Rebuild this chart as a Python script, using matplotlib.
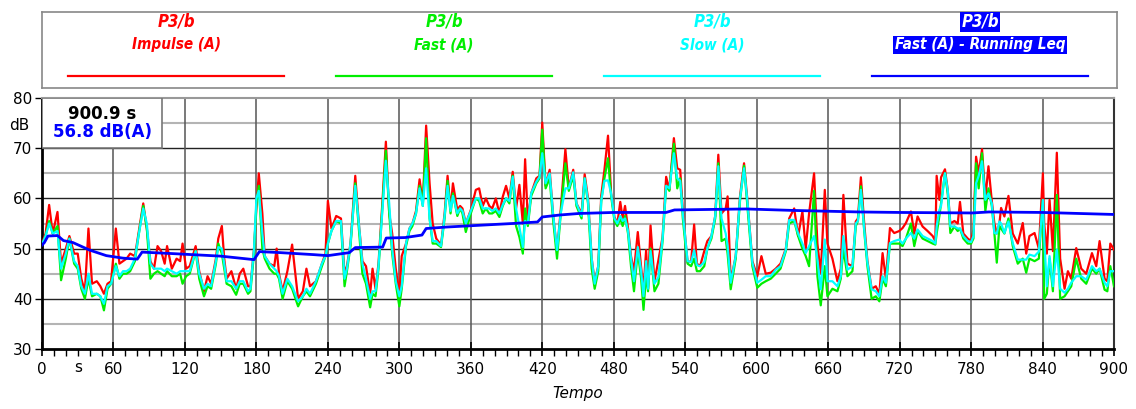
import numpy as np
import matplotlib.pyplot as plt
from matplotlib.patches import Rectangle
import matplotlib.transforms as mtransforms

# time axis (s) for the three level series
t = [0, 3, 6, 9, 13, 16, 20, 23, 27, 30,
     33, 36, 39, 42, 46, 49, 52, 55, 58, 62,
     65, 68, 71, 74, 78, 81, 85, 88, 91, 94,
     97, 100, 103, 105, 109, 113, 116, 118, 121, 124,
     129, 132, 136, 139, 142, 146, 148, 151, 153, 155,
     159, 163, 166, 169, 173, 175, 178, 180, 182, 185,
     187, 191, 195, 197, 199, 202, 206, 210, 215, 219,
     222, 225, 230, 235, 238, 240, 243, 247, 251, 254,
     256, 259, 263, 266, 269, 272, 275.5, 277.5, 280, 282.5,
     286, 288.7, 291.5, 294, 297, 300, 302, 305.6, 308.5, 311,
     314, 317, 319.7, 322.5, 325.4, 328, 331, 335, 338, 340.5,
     343, 345, 348.7, 351, 353, 355.8, 360, 364.2, 367, 370,
     372.7, 375.5, 378, 381, 384, 386.8, 389.6, 392.4, 395.2, 398,
     400.8, 403.7, 405.6, 407.9, 410.7, 415, 417.7, 420, 422.8, 426.2,
     429, 432.4, 435.5, 439.4, 442.3, 446, 448.7, 453, 455.6, 458.4,
     461.5, 464, 467, 469.5, 472.2, 475.2, 477.8, 480.6, 483, 485.5,
     487.5, 489.5, 492, 494.5, 497, 500.2, 503, 505, 507.2, 508.8,
     510.9, 514.2, 517.5, 521, 524, 526.7, 530.5, 533.3, 535.8, 538,
     540.5, 542, 545, 547.5, 549.8, 552.5, 556, 558.6, 562, 565.2,
     567.8, 570.5, 574, 575.6, 578.2, 582.4, 586, 589.4, 592.2, 596.4,
     600.5, 604, 607.6, 611.8, 616, 620, 624.5, 627.3, 631.5, 634.8,
     638.4, 641.2, 644, 648.2, 651, 653.8, 657.2, 659.4, 663.6, 667.8,
     670.6, 672.8, 676.2, 680.4, 683.2, 685, 687.5, 690.3, 693, 696.5,
     700, 703, 705.7, 708.5, 711.9, 715.5, 719.7, 722.5, 725.3, 729.5,
     732.3, 735.1, 739.3, 743.5, 747.8, 750, 751.1, 753.4, 754.8, 758.1,
     760.4, 762.6, 766, 768.8, 770.7, 773.5, 777.2, 780, 782, 784.2,
     786.4, 789.2, 792, 794.6, 797.4, 799.6, 801.6, 803.8, 805.2, 808,
     811.4, 815, 819.2, 823.4, 826.3, 829, 833.3, 836.9, 840.3, 841.4,
     843.6, 845.9, 848.7, 852, 854.8, 858.5, 861.3, 864.1, 868.3, 872.5,
     876.7, 881.5, 885.1, 887.9, 892.1, 894.4, 896.9, 900]

impulse = [51, 53, 58.7, 53, 57.3, 47, 50, 52.5, 49, 49,
           44, 41.5, 54, 43, 43.5, 42.5, 41, 43, 43.5, 54,
           47, 47.5, 48, 49, 48.5, 53, 59, 54, 47.5, 46,
           50.5, 49.5, 47, 50.5, 46, 48, 47.5, 51, 46, 46.5,
           50.5, 45.5, 41.5, 44.5, 43, 48, 52, 54.5, 48, 44,
           45.5, 42, 45, 46, 42.5, 42.5, 50, 58, 65, 57,
           48.5, 47, 46.5, 50, 45, 41.5, 45.5, 50.8, 40, 41.5,
           46, 42.5, 43.5, 47, 49, 59.5, 54, 56.5, 56, 45,
           46.5, 51, 64.5, 55, 47.5, 46.5, 41, 46, 42, 47,
           60, 71.3, 57, 53, 46, 41, 48.5, 51, 54, 55,
           57.5, 63.8, 59, 74.5, 63, 55, 52, 50.7, 57, 64.5,
           57.7, 63, 57.7, 58.5, 58, 55, 57.7, 61.7, 62, 58.5,
           60, 58.5, 58, 60, 57, 60.3, 62.5, 60, 65.3, 58,
           62.7, 55, 67.8, 55.5, 61, 64, 64.5, 75.1, 62.5, 65.7,
           57, 49.5, 57.7, 69.8, 62, 65.7, 59, 57, 64.8, 60,
           48, 43.5, 46.5, 60.5, 65.7, 72.5, 61, 56.3, 55, 59.3,
           56, 58.5, 54, 48.5, 45.5, 53.3, 46.3, 42, 49.7, 42,
           54.6, 43.5, 47.7, 52.3, 64.3, 61.7, 72, 66, 65.7, 57.7,
           51, 47.3, 47.5, 54.8, 47, 46.5, 49.5, 51.5, 52.5, 56.5,
           68.7, 57, 58, 60.4, 43.5, 48.5, 60.4, 67, 59.7, 47.5,
           44.5, 48.5, 45, 45.2, 46, 47, 50, 56, 58, 52.5,
           57.4, 50, 57, 65, 51, 45, 61.7, 51, 48, 43.5,
           46, 60.7, 47, 46.5, 55.4, 56, 64.2, 55, 47.5, 42,
           42.5, 41, 49.1, 44, 54.1, 53.1, 53.5, 54.1, 55.1, 57.4,
           53, 56.4, 54.4, 53.5, 52.5, 51.5, 64.5, 59.7, 64.2, 65.8,
           61.7, 55, 55.5, 55, 59.3, 53, 52, 51.5, 53.8, 68.3,
           65, 69.8, 60, 66.4, 59.5, 55, 53, 55, 58.1, 56.4,
           60.5, 53, 51, 55.1, 49, 52.5, 53.1, 50, 65, 55,
           49, 59.7, 49.5, 69.1, 48, 42, 45.5, 44, 50.1, 46,
           45, 49.1, 46.5, 51.5, 44, 43.5, 51, 49.8]

fast = [50.8, 52.5, 55.5, 53, 54.5, 43.7, 48, 52, 47, 46,
        42, 40, 44, 40.5, 41, 40.5, 37.7, 42, 43, 47,
        44, 45, 45, 45.5, 47.5, 52.5, 58.5, 54, 44, 45,
        45.5, 45, 44.5, 45.5, 44.5, 44.5, 45, 43, 44.5, 45,
        49.5, 44, 40.5, 42.5, 42, 47, 51, 49, 46, 43,
        42.5, 40.8, 43, 43, 41, 41.5, 49, 59, 62.5, 50,
        48, 46, 45, 45, 44, 40, 43.5, 42, 38.5, 40.5,
        41.5, 40.5, 43, 46.5, 48.5, 51, 53.5, 55.5, 55, 42.5,
        45.5, 50.5, 63, 54, 45, 43, 38.3, 41, 40.5, 46,
        59, 69.5, 57, 49, 43, 38.5, 42, 50.5, 53.5, 54.5,
        57, 62.5, 58.5, 72, 56, 51, 51, 50.3, 56, 63.5,
        57, 61, 56.5, 58, 57, 53.3, 57, 60, 59.5, 57,
        58, 57, 57, 57.5, 56.3, 58.5, 60, 59, 64.5, 54.5,
        52.3, 49, 58, 54.5, 60.5, 63, 64, 73.7, 62, 64,
        56, 48, 57, 67, 61.5, 64.5, 58.5, 56, 64, 59,
        46, 42, 45.5, 59.5, 64, 68, 60.5, 55.5, 54.5, 56,
        54.5, 56.5, 53, 46.5, 41.5, 49.5, 44, 37.8, 45, 41.5,
        50, 41.5, 43, 51.5, 62.5, 61.5, 70.9, 62, 64, 56,
        50, 47, 46.5, 48, 45.5, 45.5, 46.5, 50, 52, 56,
        67, 51.5, 52, 49, 41.9, 48, 59.5, 66.5, 58.5, 46.5,
        42.2, 43, 43.5, 44, 45, 46, 49.5, 55, 55.5, 52.5,
        50, 48.5, 46.5, 61.5, 44.5, 38.7, 46.5, 40.5, 42, 41.5,
        44, 50, 44.5, 45.5, 54.5, 55.5, 62.4, 53.5, 46.5, 40,
        40.5, 39.5, 44, 42.5, 51, 51, 51, 50.5, 52, 55,
        50.5, 53.5, 52, 51.5, 51, 50.8, 53, 56.5, 59, 65,
        61, 53.1, 54.4, 53.5, 54, 52, 51, 51, 52, 67,
        62, 69, 57.5, 62, 58.5, 53, 47.2, 54.5, 54, 53,
        56, 50.5, 47, 48, 45.2, 48, 47.5, 48, 59.7, 40,
        41, 48, 41.5, 60.7, 40, 40.5, 41.5, 42.5, 48, 44,
        43, 46, 45, 46, 41.8, 41.5, 46.5, 42.5]

slow = [50.8, 52.5, 55, 53, 53.5, 46, 49, 52, 47.5, 46.5,
        42.5, 41, 45, 41, 41, 40.5, 39, 42.5, 43, 46.5,
        44.5, 45.5, 45.5, 46, 48, 52.5, 58, 55, 47, 46,
        46, 46, 45.5, 46, 45.5, 45, 45.5, 45.5, 45.5, 45.5,
        49.5, 45, 42, 43, 42.5, 47.5, 50.3, 50, 47, 43.5,
        43.5, 42, 43.5, 43.5, 41.5, 42, 50, 60, 61.5, 53,
        48.5, 47, 46, 45.5, 44.5, 41, 44, 42.5, 39.5, 40.5,
        42, 41, 43.5, 47, 48.5, 51, 53.5, 55.5, 55.5, 44,
        46, 51, 62.5, 55, 47, 44, 40, 41.5, 41.5, 46.5,
        58.5, 67.5, 59, 50, 43.5, 40.5, 42.5, 51, 54, 55,
        57, 62, 58.5, 66, 56, 51.5, 51.5, 50.5, 56.5, 62.5,
        57.5, 60.5, 57, 58, 57.5, 55, 57.5, 60, 60, 58,
        58, 58, 57.5, 58, 57, 58.7, 60, 59.5, 64.3, 58,
        54.3, 50.3, 55.5, 55, 61, 63.3, 64.3, 69, 63, 65,
        57, 49.7, 57, 62, 62, 65.2, 59, 56.5, 64, 59.5,
        48, 43, 46.5, 59.5, 63.5, 63.6, 61, 56, 55, 56.5,
        55.5, 56, 53.5, 48, 43.5, 50.3, 45.5, 40.5, 47.5, 42,
        49.5, 43, 44.3, 52, 62.5, 62, 69, 64, 63.5, 57,
        51, 47.5, 47.3, 49.7, 46.7, 46.5, 47.3, 50, 52.5, 56.5,
        66.4, 56, 53, 50.5, 43.2, 48.5, 60, 66, 59.5, 47.2,
        43.2, 43.8, 44.5, 44.5, 45.8, 46.5, 49.8, 55.7, 55.7, 53,
        51, 49.1, 50.5, 52.5, 47.8, 41.9, 51.8, 43.5, 43.5, 42.5,
        44.5, 52.5, 45.8, 46.5, 55, 55.5, 61.7, 53.8, 47.2, 41.9,
        41.5, 40.5, 44.5, 43.2, 51.1, 51.5, 51.8, 51, 52, 53.1,
        52, 53.8, 52.5, 52, 51.5, 51, 54.4, 57.7, 58.5, 65,
        61.7, 54.4, 54.4, 54, 54, 52.5, 51.5, 51.3, 52.5, 63,
        64.5, 67.4, 59.7, 61, 59, 53.1, 53, 55.4, 55, 53.1,
        55.4, 51.1, 47.8, 47.8, 47.8, 48.8, 48.5, 49.4, 59.7, 52,
        42.5, 48.5, 42.5, 49.8, 42, 41.2, 42, 43.2, 44.5, 44.5,
        43.8, 46.5, 45.5, 46, 43.2, 42.5, 45.5, 45.5]

# running Leq
t_leq = [0, 2, 5, 13, 18, 26, 40, 54, 68, 80,
         84, 110, 150, 178, 182.5, 200, 228, 240, 258, 263,
         286, 289, 305, 319, 322.5, 340, 395, 416, 420, 435,
         451, 480, 524, 531, 591, 631, 686, 720, 781, 795,
         840, 900]
leq = [50.7, 51.2, 52.5, 52.6, 51.6, 51.2, 49.7, 48.6, 48.1, 47.9,
       49.3, 49.0, 48.5, 47.8, 49.4, 49.2, 48.8, 48.6, 49.2, 50.2,
       50.3, 52.1, 52.2, 52.7, 54.0, 54.3, 55.0, 55.3, 56.3, 56.7,
       57.0, 57.2, 57.2, 57.7, 57.9, 57.6, 57.3, 57.2, 57.1, 57.3,
       57.2, 56.8]

W, H = 1136, 409
fig = plt.figure(figsize=(W / 100, H / 100), dpi=100)

# ---- main plot
ax = fig.add_axes([42 / W, 60 / H, 1072 / W, 251 / H])
ax.plot(t, impulse, color='#ff0000', lw=1.6, zorder=3)
ax.plot(t, fast, color='#00ee00', lw=1.6, zorder=4)
ax.plot(t, slow, color='#00ffff', lw=1.6, zorder=5)
ax.plot(t_leq, leq, color='#0000ff', lw=2, zorder=6)

ax.set_xlim(0, 900)
ax.set_ylim(30, 80)

for y in [35, 45, 55, 65, 75]:
    ax.axhline(y, color='#b4b4b4', lw=1.5, zorder=1)
for y in [40, 50, 60, 70]:
    ax.axhline(y, color='#222222', lw=1, zorder=1)
for x in range(60, 900, 60):
    ax.axvline(x, color='#555555', lw=1.1, zorder=1)

ax.set_xticks(range(0, 901, 60))
ax.set_xticks(range(0, 901, 10), minor=True)
ax.set_yticks(range(30, 81, 10))
ax.tick_params(axis='x', which='major', direction='inout', length=10, width=1.2,
               labelsize=11, pad=4)
ax.tick_params(axis='x', which='minor', direction='out', length=5, width=1)
ax.tick_params(axis='y', direction='out', length=5, width=1, labelsize=11, pad=2)

for s in ['left', 'bottom']:
    ax.spines[s].set_linewidth(2)
    ax.spines[s].set_color('black')
ax.spines['top'].set_color('#999999')
ax.spines['top'].set_linewidth(1.5)
ax.spines['right'].set_color('#333333')
ax.spines['right'].set_linewidth(1.5)

ax.set_xlabel('Tempo', fontsize=11, style='italic', labelpad=7)
trans = mtransforms.blended_transform_factory(ax.transAxes, ax.transData)
ax.text(-0.021, 74.6, 'dB', transform=trans, ha='center', va='center', fontsize=11)
transx = mtransforms.blended_transform_factory(ax.transData, ax.transAxes)
ax.text(30, -0.045, 's', transform=transx, ha='center', va='top', fontsize=11)

# info box in top-left corner
ax.add_patch(Rectangle((0, 70), 101, 10, facecolor='white', edgecolor='#777777',
                       lw=1.2, zorder=8))
ax.text(50.5, 76.9, '900.9 s', ha='center', va='center', fontsize=12,
        fontweight='bold', color='black', zorder=9)
ax.text(50.5, 73.2, '56.8 dB(A)', ha='center', va='center', fontsize=12,
        fontweight='bold', color='#0000ff', zorder=9)

# ---- legend panel
lg = fig.add_axes([42 / W, (H - 88) / H, 1075 / W, 76 / H])
lg.set_xlim(42, 1117)
lg.set_ylim(88, 12)
lg.set_xticks([])
lg.set_yticks([])
for s in lg.spines.values():
    s.set_color('#888888')
    s.set_linewidth(1.2)

names = ['Impulse (A)', 'Fast (A)', 'Slow (A)', 'Fast (A) - Running Leq']
colors = ['#ff0000', '#00ee00', '#00ffff', '#0000ff']
centers = [176, 444, 712, 980]
for name, c, cx in zip(names, colors, centers):
    if c == '#0000ff':
        box = dict(facecolor='#0000ff', edgecolor='none', pad=1)
        tc = 'white'
    else:
        box = None
        tc = c
    lg.text(cx, 22, 'P3/b', ha='center', va='center', color=tc, fontsize=12,
            fontweight='bold', style='italic', fontstretch='condensed', bbox=box)
    lg.text(cx, 45, name, ha='center', va='center', color=tc, fontsize=11,
            fontweight='bold', style='italic', fontstretch='condensed', bbox=box)
    lg.plot([cx - 108, cx + 108], [76, 76], color=c, lw=1.6)

fig.savefig('out.png', dpi=100)
